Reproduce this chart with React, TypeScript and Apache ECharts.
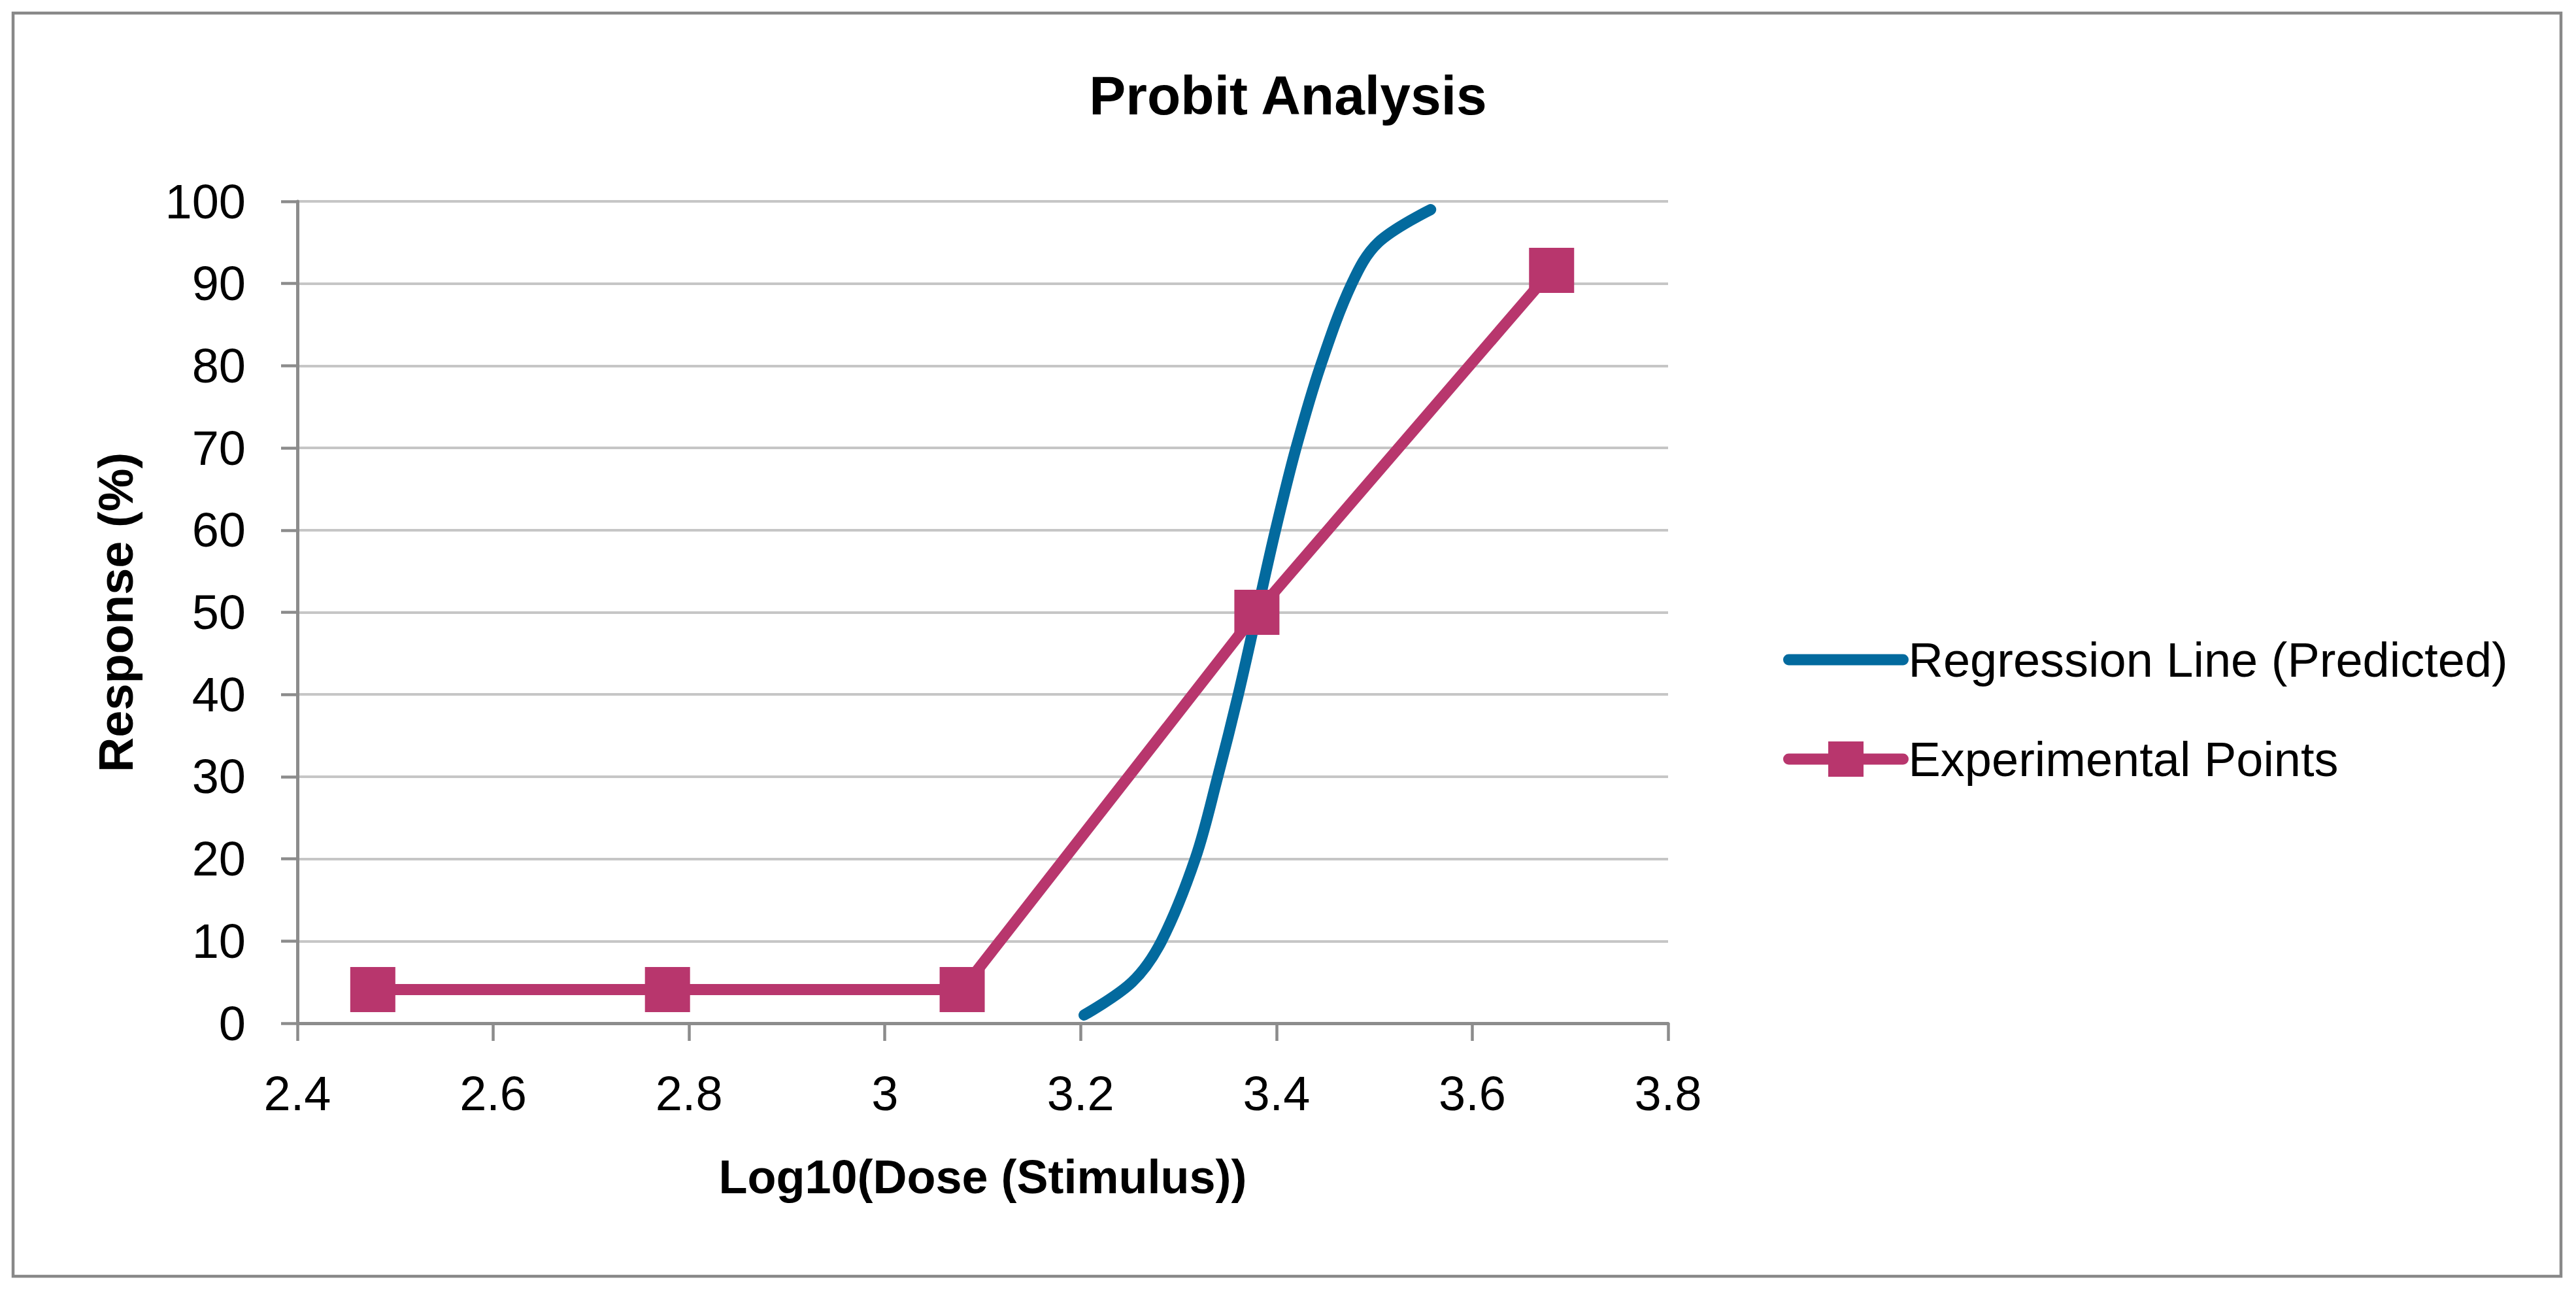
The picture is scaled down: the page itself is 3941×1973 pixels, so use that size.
import React, { useEffect, useRef } from "react";
import * as echarts from "echarts";

// ---- data ----
const chartTitle = "Probit Analysis";
const xAxisTitle = "Log10(Dose (Stimulus))";
const yAxisTitle = "Response (%)";
const seriesNames = ["Regression Line (Predicted)", "Experimental Points"];

const xMin = 2.4;
const xMax = 3.8;
const xStep = 0.2;
const yMin = 0;
const yMax = 100;
const yStep = 10;

// Regression (predicted) curve
const regressionX = [3.2035, 3.2525, 3.2826, 3.317, 3.34, 3.361, 3.38, 3.399, 3.42, 3.445, 3.477, 3.504, 3.5575];
const regressionY = [1, 5, 10, 20, 30, 40, 50, 60, 70, 80, 90, 95, 99];

// Experimental points
const experimentalX = [2.477, 2.778, 3.079, 3.38, 3.681];
const experimentalY = [4.1, 4.1, 4.1, 50, 91.6];

// ---- styles ----
const FONT = "'Liberation Sans', Arial, sans-serif";
const BLUE = "#036a9e";
const PINK = "#b8366d";
const AXIS_GRAY = "#8c8c8c";
const GRID_GRAY = "#c6c6c6";

const zip = (xs: number[], ys: number[]) => xs.map((x, i) => [x, ys[i]]);

export default function App() {
  const ref = useRef<HTMLDivElement>(null);

  useEffect(() => {
    document.body.style.margin = "0";
    document.body.style.overflow = "hidden";
    const chart = echarts.init(ref.current!, null, { renderer: "svg" });
    const option: any = {
      animation: false,
      backgroundColor: "#ffffff",
      textStyle: { fontFamily: FONT },
      title: {
        text: chartTitle,
        left: "center",
        top: 99,
        textStyle: { fontFamily: FONT, fontSize: 84, fontWeight: "bold", color: "#000" },
      },
      graphic: [
        {
          type: "rect",
          shape: { x: 20, y: 20, width: 3898, height: 1932 },
          style: { fill: "none", stroke: "#888888", lineWidth: 4.5 },
          silent: true,
          z: -10,
        },
      ],
      grid: { left: 455, right: 3941 - 2552, top: 308, bottom: 1973 - 1565, containLabel: false },
      legend: {
        orient: "vertical",
        left: 2723,
        top: 967,
        itemWidth: 175,
        itemHeight: 67.5,
        itemGap: 78,
        data: [
          { name: seriesNames[0], itemStyle: { opacity: 0 } },
          { name: seriesNames[1] },
        ],
        lineStyle: { width: 17, cap: "round" },
        textStyle: { fontFamily: FONT, fontSize: 74, color: "#000", padding: [0, 0, 0, 3] },
      },
      xAxis: {
        type: "value",
        min: xMin,
        max: xMax,
        interval: xStep,
        name: xAxisTitle,
        nameLocation: "middle",
        nameGap: 199,
        nameTextStyle: { fontFamily: FONT, fontSize: 72, fontWeight: "bold", color: "#000" },
        axisLine: { show: true, onZero: false, lineStyle: { color: AXIS_GRAY, width: 5 } },
        axisTick: { show: true, inside: false, length: 27, lineStyle: { color: AXIS_GRAY, width: 4.5 } },
        axisLabel: { margin: 70, fontFamily: FONT, fontSize: 74, color: "#000" },
        splitLine: { show: false },
      },
      yAxis: {
        type: "value",
        min: yMin,
        max: yMax,
        interval: yStep,
        name: yAxisTitle,
        nameLocation: "middle",
        nameGap: 241,
        nameTextStyle: { fontFamily: FONT, fontSize: 74, fontWeight: "bold", color: "#000" },
        axisLine: { show: true, onZero: false, lineStyle: { color: AXIS_GRAY, width: 5 } },
        axisTick: { show: true, inside: false, length: 25, lineStyle: { color: AXIS_GRAY, width: 4.5 } },
        axisLabel: { margin: 79, fontFamily: FONT, fontSize: 74, color: "#000" },
        splitLine: { show: true, lineStyle: { color: GRID_GRAY, width: 4 } },
      },
      series: [
        {
          name: seriesNames[0],
          type: "line",
          data: zip(regressionX, regressionY),
          symbol: "none",
          smooth: 0.35,
          color: BLUE,
          lineStyle: { color: BLUE, width: 17, cap: "round", join: "round" },
          z: 2,
        },
        {
          name: seriesNames[1],
          type: "line",
          data: zip(experimentalX, experimentalY),
          symbol: "rect",
          symbolSize: 69,
          showAllSymbol: true,
          color: PINK,
          itemStyle: { color: PINK, borderWidth: 0 },
          lineStyle: { color: PINK, width: 17, cap: "round", join: "round" },
          z: 3,
        },
      ],
    };
    chart.setOption(option);
    return () => chart.dispose();
  }, []);

  return <div ref={ref} style={{ width: 3941, height: 1973 }} />;
}
